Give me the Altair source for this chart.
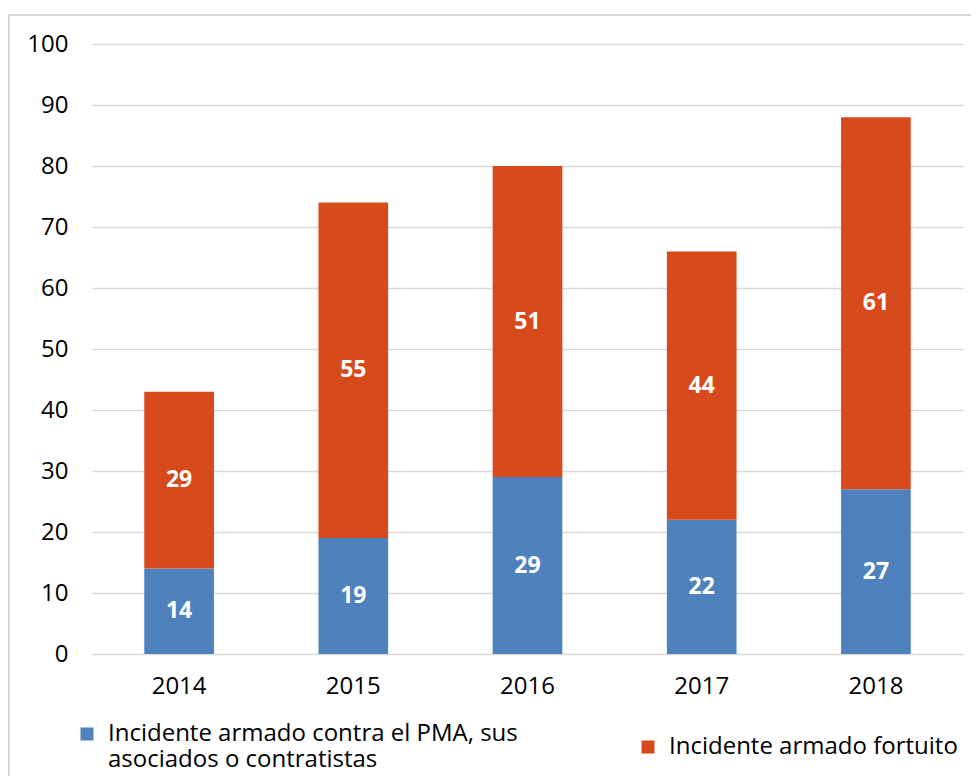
import altair as alt
import pandas as pd

years = ["2014", "2015", "2016", "2017", "2018"]
contra = [14, 19, 29, 22, 27]
fortuito = [29, 55, 51, 44, 61]
series = ["Incidente armado contra el PMA, sus asociados o contratistas",
          "Incidente armado fortuito"]
colors = ["#4F81BD", "#D64A1C"]

rows = []
for i, y in enumerate(years):
    rows.append({"year": y, "serie": series[0], "value": contra[i], "ord": 0})
    rows.append({"year": y, "serie": series[1], "value": fortuito[i], "ord": 1})
df = pd.DataFrame(rows)

FONT = "Open Sans"
FS = 24

base = alt.Chart(df).transform_stack(
    stack="value", groupby=["year"], as_=["v0", "v1"],
    sort=[alt.SortField("ord", order="ascending")]
).transform_calculate(mid="(datum.v0 + datum.v1) / 2")

x = alt.X("year:N", title=None, sort=years,
          scale=alt.Scale(paddingInner=0.6, paddingOuter=0.3),
          axis=alt.Axis(labelAngle=0, labelFontSize=FS, labelColor="#000000",
                        labelFont=FONT, labelPadding=20, ticks=False, domain=False,
                        grid=False))

bars = base.mark_bar().encode(
    x=x,
    y=alt.Y("v0:Q", title=None,
            scale=alt.Scale(domain=[0, 100], nice=False),
            axis=alt.Axis(values=list(range(0, 101, 10)), labelFontSize=FS,
                          labelColor="#000000", labelFont=FONT, labelPadding=24,
                          ticks=False, domain=False, grid=True,
                          gridColor="#d9d9d9", gridWidth=1.5)),
    y2="v1:Q",
    color=alt.Color("serie:N", sort=series,
                    scale=alt.Scale(domain=series, range=colors),
                    legend=alt.Legend(
                        title=None, orient="none", direction="horizontal",
                        columns=2, legendX=-17, legendY=678,
                        symbolType="square", symbolSize=169, symbolStrokeWidth=0,
                        labelFont=FONT, labelFontSize=FS, labelColor="#000000",
                        labelOffset=9, labelLimit=600, columnPadding=118,
                        labelExpr="datum.label == 'Incidente armado fortuito' ? datum.label : ['Incidente armado contra el PMA, sus', 'asociados o contratistas']")),
)

labels = base.mark_text(color="white", fontWeight="bold", font=FONT,
                        fontSize=23).encode(
    x=alt.X("year:N", sort=years),
    y=alt.Y("mid:Q"),
    text=alt.Text("value:Q"),
)

border = alt.Chart(pd.DataFrame({"a": [0]})).mark_rect(
    fill=None, stroke="#d9d9d9", strokeWidth=2
).encode(x=alt.value(-83), x2=alt.value(900), y=alt.value(-29), y2=alt.value(760))

chart = alt.layer(border, bars, labels).properties(
    width=871, height=610,
    autosize=alt.AutoSizeParams(type="none"),
    padding={"left": 84, "top": 36, "right": 8, "bottom": 122},
).configure_view(stroke=None)

chart.save("out.html", embed_options={"renderer": "svg", "actions": False})
